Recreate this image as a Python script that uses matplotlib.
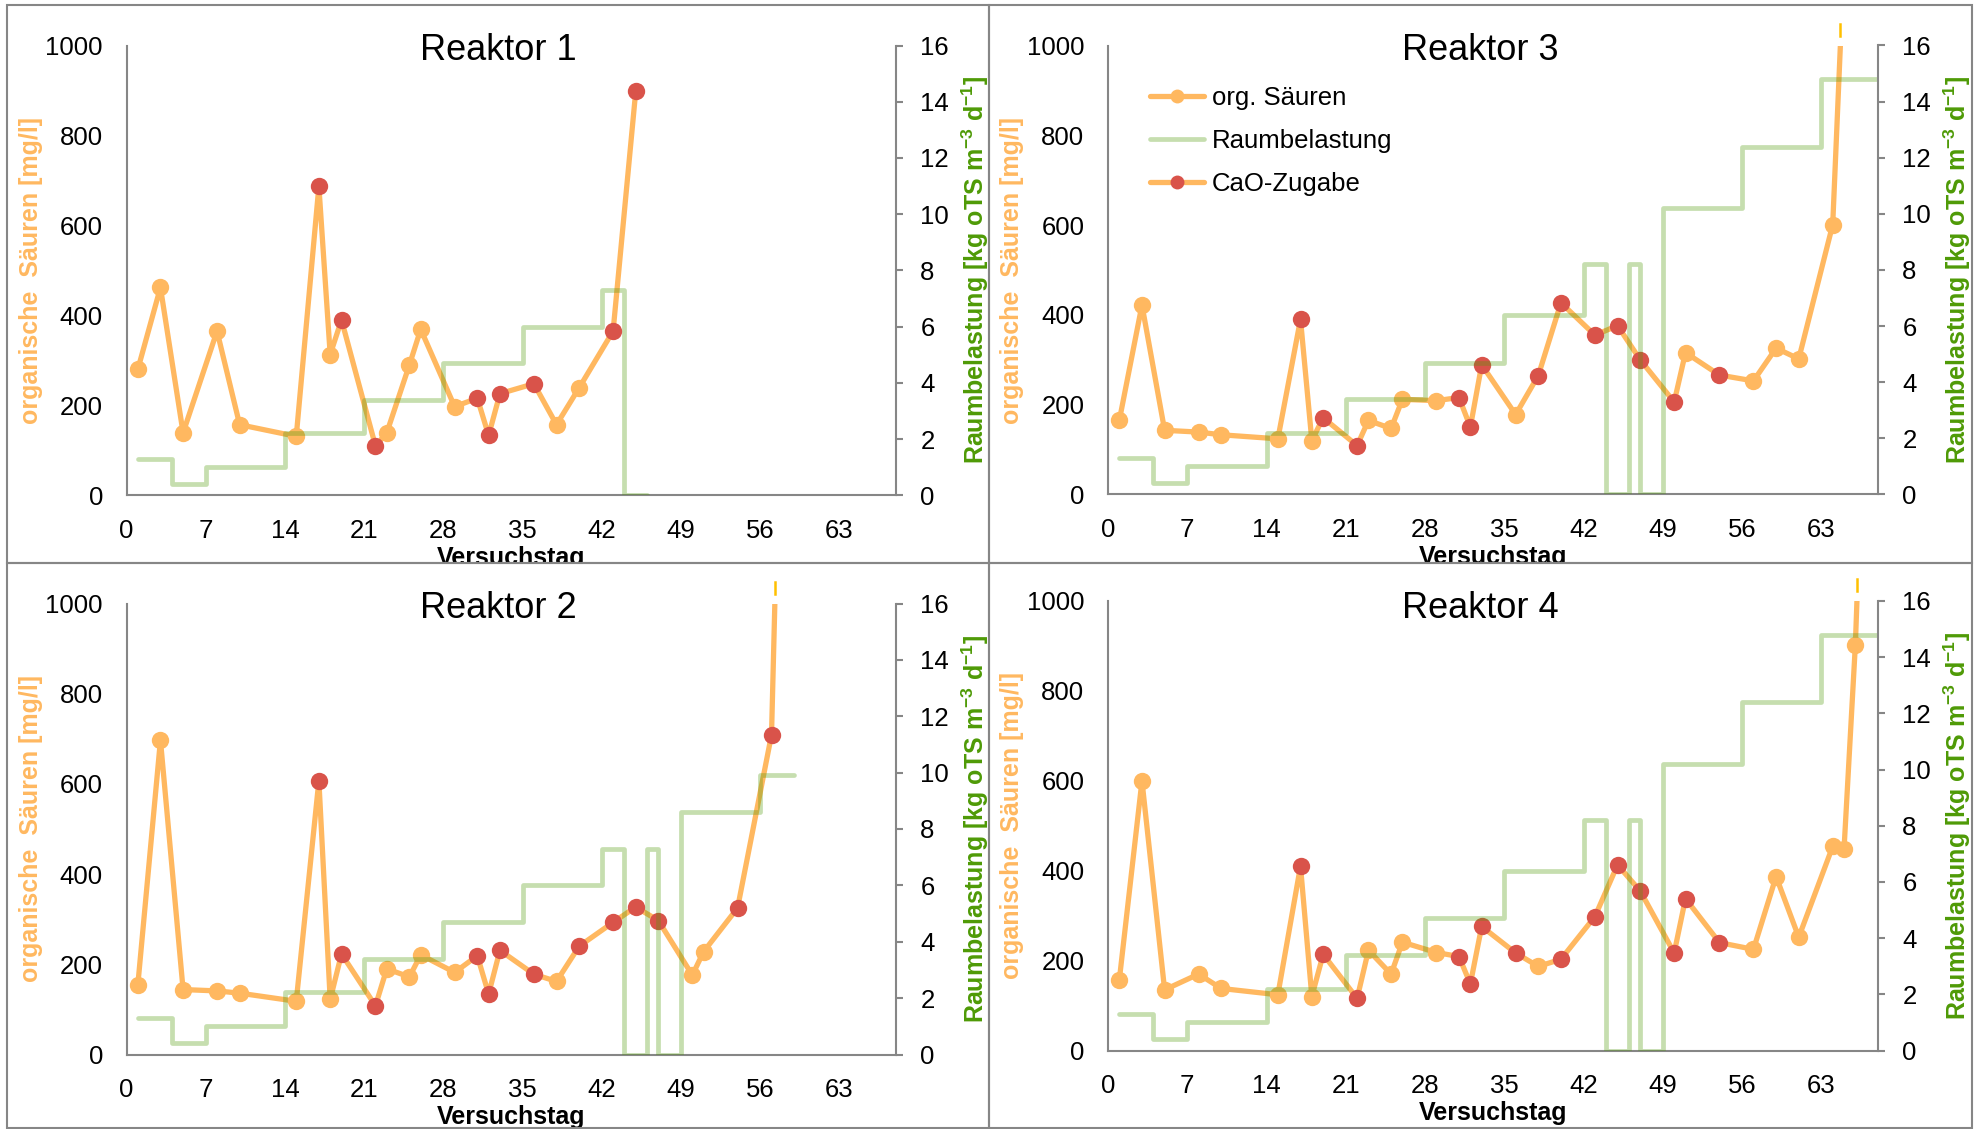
import matplotlib
matplotlib.use("Agg")
import matplotlib.pyplot as plt
import numpy as np
from matplotlib.lines import Line2D
from matplotlib.patches import Rectangle
from matplotlib.transforms import Bbox, TransformedBbox

plt.rcParams['font.family'] = ['Liberation Sans', 'DejaVu Sans']
plt.rcParams['mathtext.fontset'] = 'custom'
plt.rcParams['mathtext.rm'] = 'Liberation Sans:bold'
plt.rcParams['mathtext.it'] = 'Liberation Sans:bold'
plt.rcParams['mathtext.bf'] = 'Liberation Sans:bold'

# ---------------- data ----------------
# organic acids [mg/l] per sampling day; CaO dosing days marked separately
r1_days = [1, 3, 5, 8, 10, 15, 17, 18, 19, 22, 23, 25, 26, 29, 31, 32, 33, 36, 38, 40, 43, 45]
r1_acids = [280, 462, 139, 365, 157, 131, 687, 313, 390, 110, 139, 290, 369, 197, 216, 133, 226,
            248, 157, 239, 365, 898]
r1_cao = [17, 19, 22, 31, 32, 33, 36, 43, 45]
r1_load_days = [1, 4, 7, 14, 21, 28, 35, 42, 44, 46]
r1_load = [1.3, 0.4, 1.0, 2.2, 3.4, 4.7, 6.0, 7.3, 0.0, 0.0]

r2_days = [1, 3, 5, 8, 10, 15, 17, 18, 19, 22, 23, 25, 26, 29, 31, 32, 33, 36, 38, 40, 43, 45,
           47, 50, 51, 54, 57, 58]
r2_acids = [154, 697, 144, 141, 136, 118, 607, 122, 223, 108, 190, 172, 221, 182, 219, 134, 231,
            178, 162, 240, 293, 327, 297, 176, 228, 325, 709, 1700]
r2_cao = [17, 19, 22, 31, 32, 33, 36, 40, 43, 45, 47, 54, 57]
r2_load_days = [1, 4, 7, 14, 21, 28, 35, 42, 44, 46, 47, 49, 56, 59]
r2_load = [1.3, 0.4, 1.0, 2.2, 3.4, 4.7, 6.0, 7.3, 0.0, 7.3, 0.0, 8.6, 9.9, 9.9]

r3_days = [1, 3, 5, 8, 10, 15, 17, 18, 19, 22, 23, 25, 26, 29, 31, 32, 33, 36, 38, 40, 43, 45,
           47, 50, 51, 54, 57, 59, 61, 64, 65]
r3_acids = [165, 422, 143, 139, 133, 124, 390, 120, 171, 109, 165, 147, 212, 209, 216, 150, 289,
            178, 265, 427, 355, 376, 300, 206, 316, 266, 253, 326, 302, 601, 1190]
r3_cao = [17, 19, 22, 31, 32, 33, 38, 40, 43, 45, 47, 50, 54]
r3_load_days = [1, 4, 7, 14, 21, 28, 35, 42, 44, 46, 47, 49, 56, 63, 68]
r3_load = [1.3, 0.4, 1.0, 2.2, 3.4, 4.7, 6.4, 8.2, 0.0, 8.2, 0.0, 10.2, 12.4, 14.8, 14.8]

r4_days = [1, 3, 5, 8, 10, 15, 17, 18, 19, 22, 23, 25, 26, 29, 31, 32, 33, 36, 38, 40, 43, 45,
           47, 50, 51, 54, 57, 59, 61, 64, 65, 66, 67]
r4_acids = [157, 600, 135, 170, 138, 124, 410, 120, 214, 116, 223, 170, 241, 218, 209, 148, 276,
            217, 187, 203, 298, 413, 355, 217, 338, 240, 225, 387, 252, 454, 448, 902, 1600]
r4_cao = [17, 19, 22, 31, 32, 33, 36, 40, 43, 45, 47, 50, 51, 54]
r4_load_days = [1, 4, 7, 14, 21, 28, 35, 42, 44, 46, 47, 49, 56, 63, 68]
r4_load = [1.3, 0.4, 1.0, 2.2, 3.4, 4.7, 6.4, 8.2, 0.0, 8.2, 0.0, 10.2, 12.4, 14.8, 14.8]

titles = ['Reaktor 1', 'Reaktor 2', 'Reaktor 3', 'Reaktor 4']
x_ticks = list(range(0, 64, 7))
acid_ticks = list(range(0, 1001, 200))
load_ticks = list(range(0, 17, 2))
legend_labels = ['org. Säuren', 'Raumbelastung', 'CaO-Zugabe']

# ---------------- style ----------------
ORANGE = '#FFB860'
RED = '#D9534A'
GREEN = '#4E9A06'
GREEN_ALPHA = 0.32
GOLD = '#FFC000'
GREY = '#868686'
TICK_FS = 18.5
W, H = 1984, 1129

fig = plt.figure(figsize=(W / 100, H / 100), dpi=100)
fig.patch.set_facecolor('white')

# pixel layout: (frame left, top, right, bottom), (axes left, top, right, bottom)
layout = {
    'Reaktor 1': ((7, 5, 989, 563), (126.5, 45.5, 896, 495.3)),
    'Reaktor 3': ((989, 5, 1972, 563), (1108, 45.5, 1878, 494.5)),
    'Reaktor 2': ((7, 563, 989, 1128), (126.5, 603.5, 896, 1054.5)),
    'Reaktor 4': ((989, 563, 1972, 1128), (1108, 601, 1878, 1050.5)),
}

reactors = {
    'Reaktor 1': (r1_days, r1_acids, r1_cao, r1_load_days, r1_load),
    'Reaktor 2': (r2_days, r2_acids, r2_cao, r2_load_days, r2_load),
    'Reaktor 3': (r3_days, r3_acids, r3_cao, r3_load_days, r3_load),
    'Reaktor 4': (r4_days, r4_acids, r4_cao, r4_load_days, r4_load),
}


def fx(px):
    return px / W


def fy(py):
    return 1 - py / H


for title in titles:
    days, acids, cao, load_days, load = reactors[title]
    (f0, ft, f1, fb), (a0, at, a1, ab) = layout[title]
    days = np.asarray(days, float)
    acids = np.asarray(acids, float)
    is_cao = np.isin(days, cao)

    ax = fig.add_axes([fx(a0), fy(ab), fx(a1) - fx(a0), fy(at) - fy(ab)])
    ax.set_facecolor('none')
    ax2 = ax.twinx()

    ax.set_xlim(0, 68)
    ax.set_ylim(0, 1000)
    ax2.set_ylim(0, 16)
    ax.set_xticks(x_ticks)
    ax.set_yticks(acid_ticks)
    ax2.set_yticks(load_ticks)

    # organic acids line with markers, CaO dosing in red
    ax.plot(days, acids, color=ORANGE, lw=3.8, solid_joinstyle='round',
            solid_capstyle='butt', zorder=2)
    ax.plot(days[~is_cao], acids[~is_cao], 'o', ms=12.5, color=ORANGE, mec='none', zorder=3)
    ax.plot(days[is_cao], acids[is_cao], 'o', ms=12.5, color=RED, mec='none', zorder=4)

    # short overflow tick where the acid curve leaves the top of the axis
    over = np.nonzero(acids > 1000)[0]
    if over.size:
        i = over[0]
        xc = days[i - 1] + (1000 - acids[i - 1]) / (acids[i] - acids[i - 1]) * (days[i] - days[i - 1])
        ax.plot([xc, xc], [1022, 1048], color=GOLD, lw=1.8, clip_on=False, zorder=5)

    # organic loading rate as a step line
    ax2.plot(load_days, load, drawstyle='steps-post', color=GREEN, alpha=GREEN_ALPHA, lw=3.4,
             solid_joinstyle='round', solid_capstyle='round')

    for s in ['top', 'right']:
        ax.spines[s].set_visible(False)
    for s in ['left', 'bottom']:
        ax.spines[s].set_color(GREY)
        ax.spines[s].set_linewidth(1.5)
    for s in ['top', 'left', 'bottom']:
        ax2.spines[s].set_visible(False)
    ax2.spines['right'].set_color(GREY)
    ax2.spines['right'].set_linewidth(1.5)

    ax.tick_params(axis='both', length=0, labelsize=TICK_FS)
    ax.tick_params(axis='x', pad=17)
    ax.tick_params(axis='y', pad=17)
    ax2.tick_params(axis='y', length=5, width=1.5, color=GREY, direction='out',
                    labelsize=TICK_FS, pad=12.5)

    aw = a1 - a0
    ah = ab - at
    ax.set_ylabel('organische  Säuren [mg/l]', color=ORANGE, fontsize=18, fontweight='bold',
                  va='center')
    ax.yaxis.set_label_coords(-96 / aw, 0.5)
    ax2.set_ylabel(r'Raumbelastung [kg oTS m$^{-3}$ d$^{-1}$]', color=GREEN, fontsize=18,
                   fontweight='bold', va='center', rotation=90)
    ax2.yaxis.set_label_coords(1 + 79 / aw, 0.5)

    ax.set_xlabel('Versuchstag', fontsize=18, fontweight='bold', va='top')
    ax.xaxis.set_label_coords(0.5, -(546 - 495.3) / ah)
    clip = TransformedBbox(Bbox.from_extents(fx(f0), fy(fb), fx(f1), fy(ft)), fig.transFigure)
    ax.xaxis.label.set_clip_box(clip)
    ax.xaxis.label.set_clip_on(True)

    fig.text((fx(f0) + fx(f1)) / 2, fy(ft + 55), title, ha='center', va='baseline', fontsize=26)
    fig.add_artist(Rectangle((fx(f0), fy(fb)), fx(f1) - fx(f0), fy(ft) - fy(fb),
                             transform=fig.transFigure, fill=False, ec=GREY, lw=1.5))

    if title == 'Reaktor 3':
        handles = [
            Line2D([], [], color=ORANGE, lw=3.8, solid_capstyle='round', marker='o', ms=10,
                   mfc=ORANGE, mec='none'),
            Line2D([], [], color=GREEN, alpha=GREEN_ALPHA, lw=3.4, solid_capstyle='round'),
            Line2D([], [], color=ORANGE, lw=3.8, solid_capstyle='round', marker='o', ms=10,
                   mfc=RED, mec='none'),
        ]
        ax2.legend(handles, legend_labels, loc='upper left', bbox_to_anchor=(0.0545, 0.910),
                   frameon=False, fontsize=18.5, handlelength=2.1, handletextpad=0.3,
                   labelspacing=0.75, borderpad=0, borderaxespad=0)

fig.savefig('out.png', dpi=100, facecolor='white')
